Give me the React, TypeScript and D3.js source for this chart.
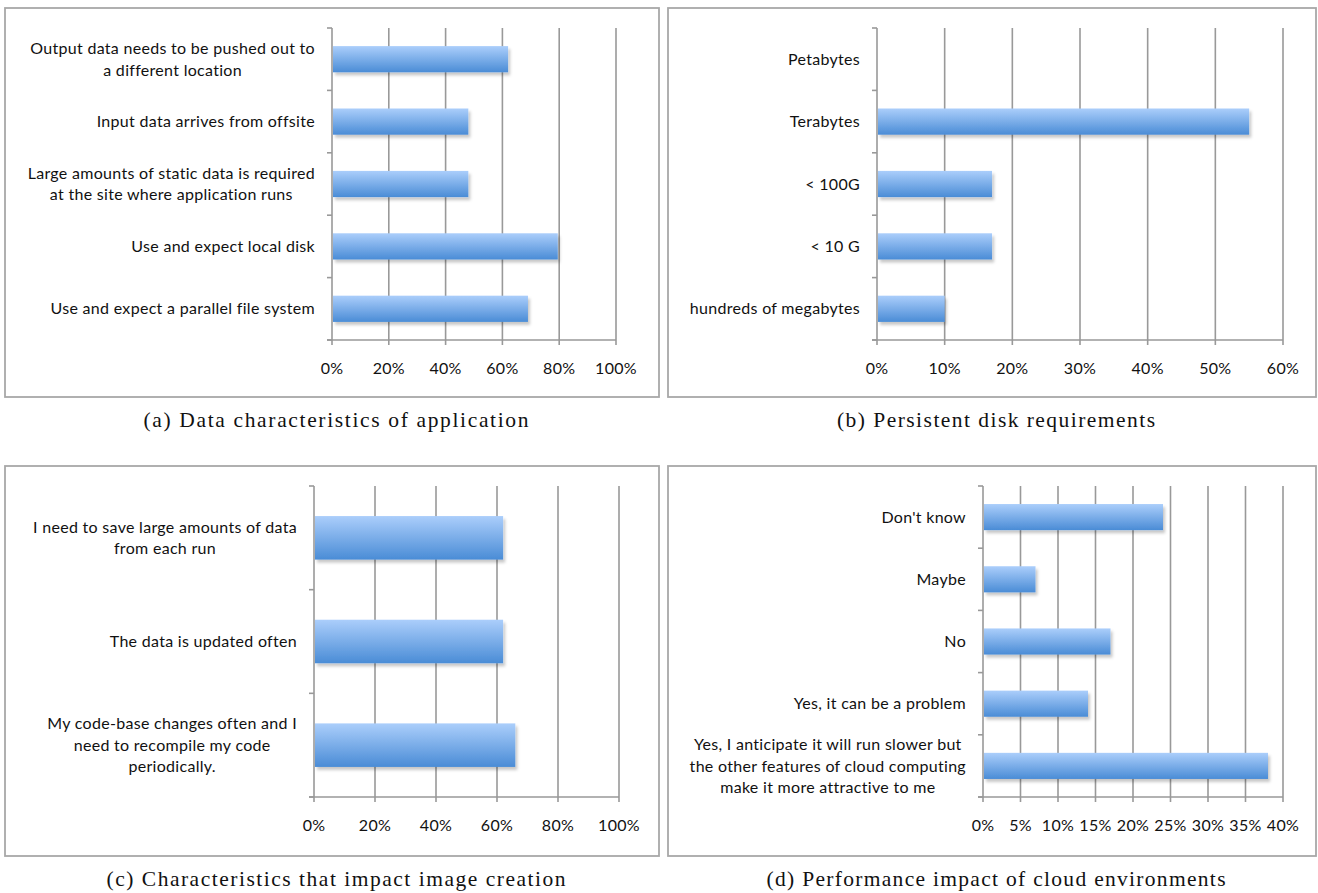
import React, { useEffect, useRef } from "react";
import * as d3 from "d3";

const WIDTH = 1318;
const HEIGHT = 893;

// (a) Data characteristics of application
const dataCharCategories = [
  "Output data needs to be pushed out to\na different location",
  "Input data arrives from offsite",
  "Large amounts of static data is required\nat the site where application runs",
  "Use and expect local disk",
  "Use and expect a parallel file system",
];
const dataCharValues = [0.62, 0.48, 0.48, 0.795, 0.69];
const dataCharTicks = [0, 0.2, 0.4, 0.6, 0.8, 1.0];

// (b) Persistent disk requirements
const diskCategories = ["Petabytes", "Terabytes", "< 100G", "< 10 G", "hundreds of megabytes"];
const diskValues = [0, 0.55, 0.17, 0.17, 0.1];
const diskTicks = [0, 0.1, 0.2, 0.3, 0.4, 0.5, 0.6];

// (c) Characteristics that impact image creation
const imageCategories = [
  "I need to save large amounts of data\nfrom each run",
  "The data is updated often",
  "My code-base changes often and I\nneed to recompile my code\nperiodically.",
];
const imageValues = [0.62, 0.62, 0.66];
const imageTicks = [0, 0.2, 0.4, 0.6, 0.8, 1.0];

// (d) Performance impact of cloud environments
const cloudCategories = [
  "Don't know",
  "Maybe",
  "No",
  "Yes, it can be a problem",
  "Yes, I anticipate it will run slower but\nthe other features of cloud computing\nmake it more attractive to me",
];
const cloudValues = [0.24, 0.07, 0.17, 0.14, 0.38];
const cloudTicks = [0, 0.05, 0.1, 0.15, 0.2, 0.25, 0.3, 0.35, 0.4];

const captions = [
  "(a) Data characteristics of application",
  "(b) Persistent disk requirements",
  "(c) Characteristics that impact image creation",
  "(d) Performance impact of cloud environments",
];

type Panel = {
  categories: string[];
  values: number[];
  ticks: number[];
  caption: string;
  captionWidth: number;
  frame: { x: number; y: number; w: number; h: number };
  plot: { left: number; right: number; top: number; bottom: number };
  captionY: number;
};

const panels: Panel[] = [
  {
    categories: dataCharCategories,
    values: dataCharValues,
    ticks: dataCharTicks,
    caption: captions[0],
    captionWidth: 385,
    frame: { x: 5, y: 8, w: 654, h: 389 },
    plot: { left: 332, right: 616, top: 28, bottom: 340 },
    captionY: 427,
  },
  {
    categories: diskCategories,
    values: diskValues,
    ticks: diskTicks,
    caption: captions[1],
    captionWidth: 318,
    frame: { x: 668, y: 8, w: 648, h: 389 },
    plot: { left: 877, right: 1283, top: 28, bottom: 340 },
    captionY: 427,
  },
  {
    categories: imageCategories,
    values: imageValues,
    ticks: imageTicks,
    caption: captions[2],
    captionWidth: 459,
    frame: { x: 5, y: 466, w: 654, h: 390 },
    plot: { left: 314, right: 619, top: 486, bottom: 797 },
    captionY: 886,
  },
  {
    categories: cloudCategories,
    values: cloudValues,
    ticks: cloudTicks,
    caption: captions[3],
    captionWidth: 459,
    frame: { x: 668, y: 466, w: 648, h: 390 },
    plot: { left: 983, right: 1283, top: 486, bottom: 797 },
    captionY: 886,
  },
];

const LABEL_FONT = "Lato, 'Open Sans', sans-serif";
const LABEL_SIZE = 16;
const LABEL_SPACING = 0.3;
const CAPTION_FONT = "'Liberation Serif', 'DejaVu Serif', serif";
const CAPTION_SIZE = 21.5;
const GRID = "#999999";
const FRAME = "#a8a8a8";

export default function App() {
  const ref = useRef<SVGSVGElement | null>(null);

  useEffect(() => {
    const svg = d3.select(ref.current);
    svg.selectAll("*").remove();

    const defs = svg.append("defs");
    const grad = defs
      .append("linearGradient")
      .attr("id", "barFill")
      .attr("x1", 0)
      .attr("y1", 0)
      .attr("x2", 0)
      .attr("y2", 1);
    grad.append("stop").attr("offset", "0%").attr("stop-color", "#abcefb");
    grad.append("stop").attr("offset", "100%").attr("stop-color", "#4a8cd6");

    const shadow = defs
      .append("filter")
      .attr("id", "barShadow")
      .attr("x", "-10%")
      .attr("y", "-20%")
      .attr("width", "130%")
      .attr("height", "160%");
    shadow
      .append("feDropShadow")
      .attr("dx", 2)
      .attr("dy", 3)
      .attr("stdDeviation", 1.6)
      .attr("flood-color", "#000")
      .attr("flood-opacity", 0.22);

    panels.forEach((p) => {
      const g = svg.append("g");
      const { frame, plot } = p;

      g.append("rect")
        .attr("x", frame.x)
        .attr("y", frame.y)
        .attr("width", frame.w)
        .attr("height", frame.h)
        .attr("fill", "#fff")
        .attr("stroke", FRAME)
        .attr("stroke-width", 1.8);

      const x = d3
        .scaleLinear()
        .domain([0, p.ticks[p.ticks.length - 1]])
        .range([plot.left, plot.right]);
      const y = d3
        .scaleBand<string>()
        .domain(p.categories)
        .range([plot.top, plot.bottom])
        .paddingInner(0.58)
        .paddingOuter(0.29);

      // vertical gridlines
      g.selectAll(".grid")
        .data(p.ticks.slice(1))
        .join("line")
        .attr("x1", (d) => x(d))
        .attr("x2", (d) => x(d))
        .attr("y1", plot.top)
        .attr("y2", plot.bottom + 5)
        .attr("stroke", GRID)
        .attr("stroke-width", 1.6);

      // category axis with boundary ticks
      g.append("line")
        .attr("x1", plot.left)
        .attr("x2", plot.left)
        .attr("y1", plot.top)
        .attr("y2", plot.bottom + 5)
        .attr("stroke", GRID)
        .attr("stroke-width", 1.6);
      const step = (plot.bottom - plot.top) / p.categories.length;
      const bounds = d3.range(p.categories.length + 1).map((i) => plot.top + i * step);
      g.selectAll(".ctick")
        .data(bounds)
        .join("line")
        .attr("x1", plot.left - 5)
        .attr("x2", plot.left)
        .attr("y1", (d) => d)
        .attr("y2", (d) => d)
        .attr("stroke", GRID)
        .attr("stroke-width", 1.6);

      // value axis baseline
      g.append("line")
        .attr("x1", plot.left - 5)
        .attr("x2", plot.right)
        .attr("y1", plot.bottom)
        .attr("y2", plot.bottom)
        .attr("stroke", GRID)
        .attr("stroke-width", 1.6);

      // bars
      g.selectAll(".bar")
        .data(p.categories.map((c, i) => ({ c, v: p.values[i] })).filter((d) => d.v > 0))
        .join("rect")
        .attr("x", plot.left + 1)
        .attr("y", (d) => y(d.c)!)
        .attr("width", (d) => x(d.v) - plot.left - 1)
        .attr("height", y.bandwidth())
        .attr("fill", "url(#barFill)")
        .attr("filter", "url(#barShadow)");

      // value tick labels
      const fmt = d3.format(".0%");
      g.selectAll(".xlab")
        .data(p.ticks)
        .join("text")
        .attr("x", (d) => x(d))
        .attr("y", plot.bottom + 34)
        .attr("text-anchor", "middle")
        .attr("font-family", LABEL_FONT)
        .attr("font-size", LABEL_SIZE)
        .attr("letter-spacing", LABEL_SPACING)
        .attr("fill", "#111")
        .text((d) => fmt(d));

      // category labels: wrapped lines centred on their widest line
      const labelRight = plot.left - 17;
      const lineH = 21.5;
      p.categories.forEach((c) => {
        const lines = c.split("\n");
        const cy = y(c)! + y.bandwidth() / 2;
        const texts = lines.map((ln, i) =>
          g
            .append("text")
            .attr("y", cy + (i - (lines.length - 1) / 2) * lineH)
            .attr("dy", "0.35em")
            .attr("text-anchor", "middle")
            .attr("font-family", LABEL_FONT)
            .attr("font-size", LABEL_SIZE)
            .attr("letter-spacing", LABEL_SPACING)
            .attr("fill", "#111")
            .text(ln)
        );
        const maxW = d3.max(texts, (t) => (t.node() as SVGTextElement).getComputedTextLength()) || 0;
        texts.forEach((t) => t.attr("x", labelRight - maxW / 2));
      });

      // caption
      g.append("text")
        .attr("x", frame.x + frame.w / 2 + 4)
        .attr("y", p.captionY)
        .attr("text-anchor", "middle")
        .attr("font-family", CAPTION_FONT)
        .attr("font-size", CAPTION_SIZE)
        .attr("textLength", p.captionWidth)
        .attr("lengthAdjust", "spacing")
        .attr("fill", "#111")
        .text(p.caption);
    });
  }, []);

  return (
    <svg
      ref={ref}
      width={WIDTH}
      height={HEIGHT}
      viewBox={`0 0 ${WIDTH} ${HEIGHT}`}
      style={{ position: "absolute", left: 0, top: 0, background: "#fff" }}
    />
  );
}
